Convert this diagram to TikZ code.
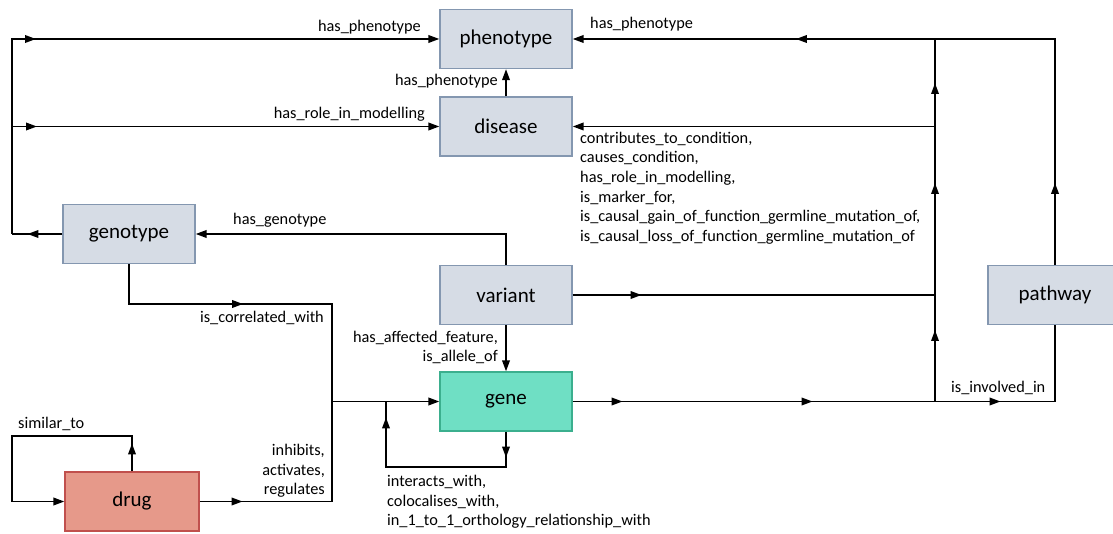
\documentclass[tikz,border=0pt]{standalone}
\usepackage{fontspec}
\setmainfont{Carlito}
\usetikzlibrary{arrows.meta,decorations.markings}
\definecolor{boxfill}{HTML}{D6DCE5}
\definecolor{boxline}{HTML}{8497B0}
\definecolor{genefill}{HTML}{6FDFC4}
\definecolor{geneline}{HTML}{3BAF8E}
\definecolor{drugfill}{HTML}{E6998A}
\definecolor{drugline}{HTML}{C0504D}
\begin{document}
\begin{tikzpicture}[x=1pt,y=-1pt,
  >={Triangle[length=11pt,width=7.5pt]},
  entity/.style={draw=boxline, fill=boxfill, line width=1.2pt, minimum width=132pt, minimum height=59pt, inner sep=0pt, font=\fontsize{21}{25}\selectfont},
  conn/.style={line width=1.9pt, draw=black},
  am/.style={postaction={decorate, decoration={markings, mark=at position #1 with {\arrow{>}}}}},
  lbl/.style={font=\fontsize{16.3}{19.7}\selectfont, inner sep=0pt},
]
\useasboundingbox (0,0) rectangle (1113,534);

% entities
\node[entity] (phenotype) at (506,39) {phenotype};
\node[entity] (disease) at (506,126.5) {disease};
\node[entity] (genotype) at (129,234) {genotype};
\node[entity] (variant) at (506,295) {variant};
\node[entity, fill=genefill, draw=geneline] (gene) at (506,401.5) {gene};
\node[entity, minimum width=134pt] (pathway) at (1055,295) {pathway};
\node[entity, fill=drugfill, draw=drugline, minimum width=134pt] (drug) at (132,501.5) {drug};

% waypoints
\coordinate (lbG) at (12,234);
\coordinate (lbD) at (12,126.5);
\coordinate (gc) at (332,304);
\coordinate (J) at (332,401.5);
\coordinate (L) at (386,401.5);
\coordinate (geneloop) at (506,467);
\coordinate (drugloopA) at (132,436);
\coordinate (drugloopB) at (12,436);
\coordinate (busV) at (935,295);
\coordinate (busD) at (935,126.5);
\coordinate (K) at (935,401.5);
\coordinate (T) at (935,39);

% connectors
\draw[conn, am=35pt] (genotype.west) -- (lbG);
\draw[conn, ->, am=219pt] (lbG) |- (phenotype.west);
\draw[conn, ->, am=25pt] (lbD) -- (disease.west);
\draw[conn, ->] (disease.north) -- (phenotype.south);
\draw[conn, ->] (variant.north) |- (genotype.east);
\draw[conn, am=154pt] (genotype.south) |- (gc) -- (J);
\draw[conn, am=43pt] (drug.east) -| (J);
\draw[conn, ->] (J) -- (gene.west);
\draw[conn, am=26pt, am=205pt] (gene.south) -- (geneloop) -| (L);
\draw[conn, ->, am=28pt] (drug.north) -- (drugloopA) -- (drugloopB) |- (drug.west);
\draw[conn, ->] (variant.south) -- (gene.north);
\draw[conn, am=69pt] (variant.east) -- (busV);
\draw[conn, am=50pt, am=240pt, am=428pt] (gene.east) -| (pathway.south);
\draw[conn, am=71.5pt, am=218.5pt, am=318.5pt] (K) -- (T);
\draw[conn, ->] (busD) -- (disease.east);
\draw[conn, ->, am=82pt, am=485pt] (pathway.north) |- (phenotype.east);

% labels
\node[lbl, anchor=east] (l1) at (421,27) {has\_phenotype};
\node[lbl, anchor=east] (l2) at (425,114) {has\_role\_in\_modelling};
\node[lbl, anchor=east] (l3) at (498,81) {has\_phenotype};
\node[lbl, anchor=west] (l4) at (590,24) {has\_phenotype};
\node[lbl, anchor=west, align=left] (l5) at (580,188) {contributes\_to\_condition,\\causes\_condition,\\has\_role\_in\_modelling,\\is\_marker\_for,\\is\_causal\_gain\_of\_function\_germline\_mutation\_of,\\is\_causal\_loss\_of\_function\_germline\_mutation\_of};
\node[lbl, anchor=west] (l6) at (233,220) {has\_genotype};
\node[lbl, anchor=east] (l7) at (324,318) {is\_correlated\_with};
\node[lbl, anchor=east, align=right] (l8) at (498,347.5) {has\_affected\_feature,\\is\_allele\_of};
\node[lbl, anchor=east, align=right] (l9) at (325,471) {inhibits,\\activates,\\regulates};
\node[lbl, anchor=west] (l10) at (18,424) {similar\_to};
\node[lbl, anchor=west, align=left] (l11) at (387,502) {interacts\_with,\\colocalises\_with,\\in\_1\_to\_1\_orthology\_relationship\_with};
\node[lbl, anchor=west] (l12) at (951,388) {is\_involved\_in};
\end{tikzpicture}
\end{document}
